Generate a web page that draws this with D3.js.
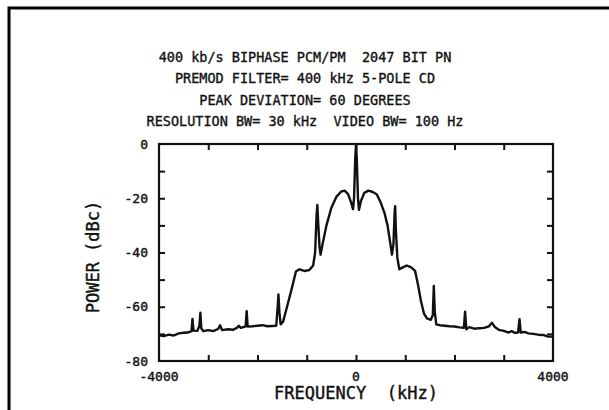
<!DOCTYPE html>
<html><head><meta charset="utf-8">
<script src="https://cdn.jsdelivr.net/npm/d3@7"></script>
<style>
body{margin:0;background:#fff;}
svg{display:block;}
text{font-family:"DejaVu Sans Mono",monospace;fill:#111;}
</style></head>
<body><svg id="c" width="609" height="410"></svg>
<script>
const titleLines = [
  "400 kb/s BIPHASE PCM/PM  2047 BIT PN",
  "PREMOD FILTER= 400 kHz 5-POLE CD",
  "PEAK DEVIATION= 60 DEGREES",
  "RESOLUTION BW= 30 kHz  VIDEO BW= 100 Hz"
];
const xLabel = "FREQUENCY (kHz)";
const yLabel = "POWER (dBc)";
const xTickLabels = [-4000, 0, 4000];
const xTicks = [-3000, -2000, -1000, 0, 1000, 2000, 3000];
const yTickLabels = [0, -20, -40, -60, -80];
const yTicks = [-10, -20, -30, -40, -50, -60, -70];
const freqKHz = [-4000,-3900,-3800,-3700,-3600,-3500,-3420,-3340,-3320,-3300,-3220,-3180,-3160,-3140,-3100,-3000,-2900,-2800,-2760,-2720,-2600,-2500,-2420,-2380,-2340,-2240,-2220,-2200,-2100,-2000,-1900,-1800,-1700,-1620,-1590,-1575,-1555,-1530,-1480,-1400,-1300,-1220,-1150,-1050,-950,-870,-830,-800,-785,-765,-740,-720,-680,-600,-500,-400,-300,-230,-160,-100,-60,-40,-15,0,15,40,60,100,170,250,330,420,500,580,640,700,730,760,785,795,810,840,880,950,1030,1120,1200,1260,1320,1380,1440,1520,1560,1580,1600,1630,1700,1800,1900,2000,2100,2190,2215,2240,2300,2400,2500,2600,2700,2760,2820,2900,3000,3100,3160,3220,3290,3320,3345,3420,3500,3600,3700,3800,3900,4000];
const powerDBc = [-70.5,-70.8,-70.3,-70.6,-69.8,-69.6,-69.5,-69.0,-64.5,-68.8,-68.9,-67.0,-62.2,-68.0,-69.0,-68.6,-69.0,-68.2,-66.8,-68.6,-68.3,-68.5,-67.8,-67.0,-67.8,-67.2,-61.6,-67.3,-67.2,-67.0,-66.8,-67.2,-67.1,-67.0,-60.0,-55.5,-62.0,-66.5,-65.5,-60.0,-53.0,-47.0,-46.2,-46.8,-46.5,-44.8,-40.0,-26.0,-22.5,-30.0,-38.0,-40.8,-37.0,-30.0,-23.5,-19.5,-17.5,-17.2,-18.5,-21.5,-24.0,-20.0,-5.0,-0.5,-5.0,-20.0,-24.3,-21.0,-18.0,-17.2,-17.6,-18.5,-21.5,-25.5,-30.0,-37.0,-40.8,-37.0,-25.0,-22.9,-32.0,-42.0,-46.2,-45.5,-44.8,-45.5,-46.8,-52.0,-58.0,-62.5,-64.3,-64.8,-63.0,-52.3,-62.0,-66.5,-66.8,-67.0,-67.2,-67.3,-67.6,-67.8,-61.8,-68.3,-67.5,-68.1,-67.9,-67.8,-67.2,-65.9,-67.5,-68.5,-68.9,-69.5,-69.0,-69.6,-69.5,-64.6,-69.5,-69.3,-69.8,-70.0,-70.3,-70.4,-71.0,-71.0];

const svg = d3.select("#c");
// outer frame
svg.append("rect").attr("x",9).attr("y",8).attr("width",700).attr("height",500)
  .attr("fill","none").attr("stroke","#000").attr("stroke-width",3);

const L=159, R=553, T=144, B=361;
const x = d3.scaleLinear().domain([-4000,4000]).range([L,R]);
const y = d3.scaleLinear().domain([-80,0]).range([B,T]);

// titles
svg.selectAll("text.title").data(titleLines).enter().append("text")
  .attr("class","title").attr("x",305).attr("y",(d,i)=>62+i*21.3)
  .attr("text-anchor","middle").attr("font-size",13.5)
  .attr("stroke","#111").attr("stroke-width",0.35)
  .style("white-space","pre").attr("xml:space","preserve").text(d=>d);

// axes with inward ticks
const tl = 6;
const g = svg.append("g");
g.append("g").attr("transform",`translate(0,${B})`)
  .call(d3.axisTop(x).tickValues(xTicks).tickSize(tl).tickFormat(""));
g.append("g").attr("transform",`translate(0,${T})`)
  .call(d3.axisBottom(x).tickValues(xTicks).tickSize(tl).tickFormat(""));
g.append("g").attr("transform",`translate(${L},0)`)
  .call(d3.axisRight(y).tickValues(yTicks).tickSize(tl).tickFormat(""));
g.append("g").attr("transform",`translate(${R},0)`)
  .call(d3.axisLeft(y).tickValues(yTicks).tickSize(tl).tickFormat(""));
g.selectAll(".domain").remove();
g.selectAll(".tick line").attr("stroke","#111").attr("stroke-width",2);

svg.append("rect").attr("x",L).attr("y",T).attr("width",R-L).attr("height",B-T)
  .attr("fill","none").attr("stroke","#111").attr("stroke-width",2.2);

// tick labels
svg.selectAll("text.yl").data(yTickLabels).enter().append("text")
  .attr("class","yl").attr("x",L-11).attr("y",d=>y(d)+4.5)
  .attr("text-anchor","end").attr("font-size",13).attr("stroke","#111").attr("stroke-width",0.4)
  .text(d=>d);
svg.selectAll("text.xl").data(xTickLabels).enter().append("text")
  .attr("class","xl").attr("x",d=>x(d)).attr("y",381)
  .attr("text-anchor","middle").attr("font-size",13).attr("stroke","#111").attr("stroke-width",0.4)
  .text(d=>d);

// axis labels
svg.append("text").attr("x",356).attr("y",399).attr("text-anchor","middle")
  .attr("font-size",17).attr("stroke","#111").attr("stroke-width",0.4)
  .attr("xml:space","preserve").text(xLabel.replace(" ","  "));
svg.append("text").attr("transform","translate(99,257) rotate(-90)").attr("text-anchor","middle")
  .attr("font-size",17).attr("stroke","#111").attr("stroke-width",0.4).text(yLabel);

// spectrum trace
const pts = freqKHz.map((f,i)=>[f,powerDBc[i]]);
svg.append("path").datum(pts)
  .attr("fill","none").attr("stroke","#111").attr("stroke-width",2.4)
  .attr("stroke-linejoin","round")
  .attr("d", d3.line().x(d=>x(d[0])).y(d=>y(d[1])));
</script></body></html>
